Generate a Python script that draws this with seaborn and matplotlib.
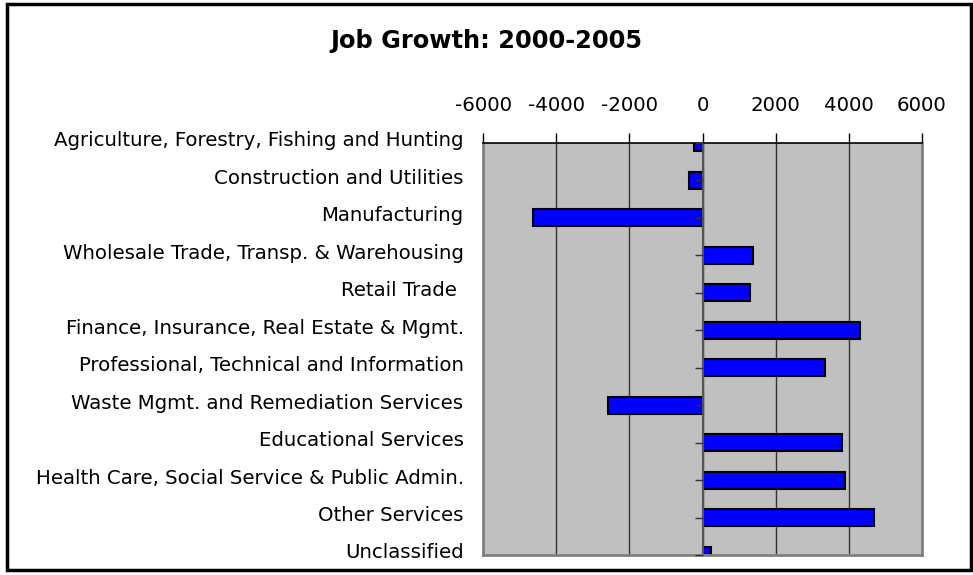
import numpy as np
import pandas as pd
import seaborn as sns
import matplotlib.pyplot as plt
from matplotlib.patches import Rectangle
from matplotlib.transforms import ScaledTranslation

# job growth by sector
sectors = [
    "Agriculture, Forestry, Fishing and Hunting",
    "Construction and Utilities",
    "Manufacturing",
    "Wholesale Trade, Transp. & Warehousing",
    "Retail Trade ",
    "Finance, Insurance, Real Estate & Mgmt.",
    "Professional, Technical and Information",
    "Waste Mgmt. and Remediation Services",
    "Educational Services",
    "Health Care, Social Service & Public Admin.",
    "Other Services",
    "Unclassified",
]
growth = [-230, -370, -4630, 1390, 1290, 4300, 3350, -2570, 3800, 3900, 4700, 240]
x_ticks = [-6000, -4000, -2000, 0, 2000, 4000, 6000]

df = pd.DataFrame({"sector": sectors, "growth": growth})

sns.set_style("white")
plt.rcParams['font.family'] = ['DejaVu Sans']
plt.rcParams['axes.unicode_minus'] = False
plt.rcParams['text.color'] = 'black'
plt.rcParams['xtick.color'] = 'black'
plt.rcParams['ytick.color'] = 'black'

fig = plt.figure(figsize=(9.73, 5.75), dpi=100)
ax = fig.add_axes([483 / 973, 1 - 555 / 575, 439 / 973, 412 / 575])
ax.set_facecolor('#C0C0C0')

sns.barplot(data=df, x="growth", y="sector", orient="h", color="#0000FF",
            saturation=1, edgecolor="black", linewidth=1.5, width=0.45, ax=ax)

ax.set_xlim(-6000, 6000)
ax.set_ylim(len(sectors) - 1, 0)
ax.set_xticks(x_ticks)
ax.xaxis.tick_top()
ax.tick_params(axis='x', direction='out', length=7, width=1, color='black',
               labelcolor='black', labelsize=14.2, pad=13.5)
ax.tick_params(axis='y', length=0, labelsize=14.2, labelcolor='black', pad=14)
ax.set_xlabel("")
ax.set_ylabel("")

# category labels sit a little above their ticks
for lbl in ax.get_yticklabels():
    lbl.set_transform(lbl.get_transform() + ScaledTranslation(0, 0.04, fig.dpi_scale_trans))

ax.grid(axis='x', color='#333333', linewidth=1)
ax.set_axisbelow(True)
ax.axvline(0, color='#555555', linewidth=1.5, zorder=1)
# category ticks on the zero line
ax.plot(np.zeros(len(sectors)), np.arange(len(sectors)), ls='', marker=0,
        ms=6, mew=1, color='#333333', clip_on=False, zorder=3)

for side in ['left', 'right', 'bottom']:
    ax.spines[side].set_color('#808080')
    ax.spines[side].set_linewidth(2)
ax.spines['top'].set_color('black')
ax.spines['top'].set_linewidth(1.2)

fig.text(0.5, 1 - 41 / 575, "Job Growth: 2000-2005", ha='center', va='center',
         fontsize=17.4, fontweight='bold')

fig.patches.append(Rectangle((7 / 973, 1 - 570 / 575), 964 / 973, 566 / 575,
                             transform=fig.transFigure, fill=False,
                             edgecolor='black', linewidth=2.5))

fig.savefig("out.png", dpi=100)
